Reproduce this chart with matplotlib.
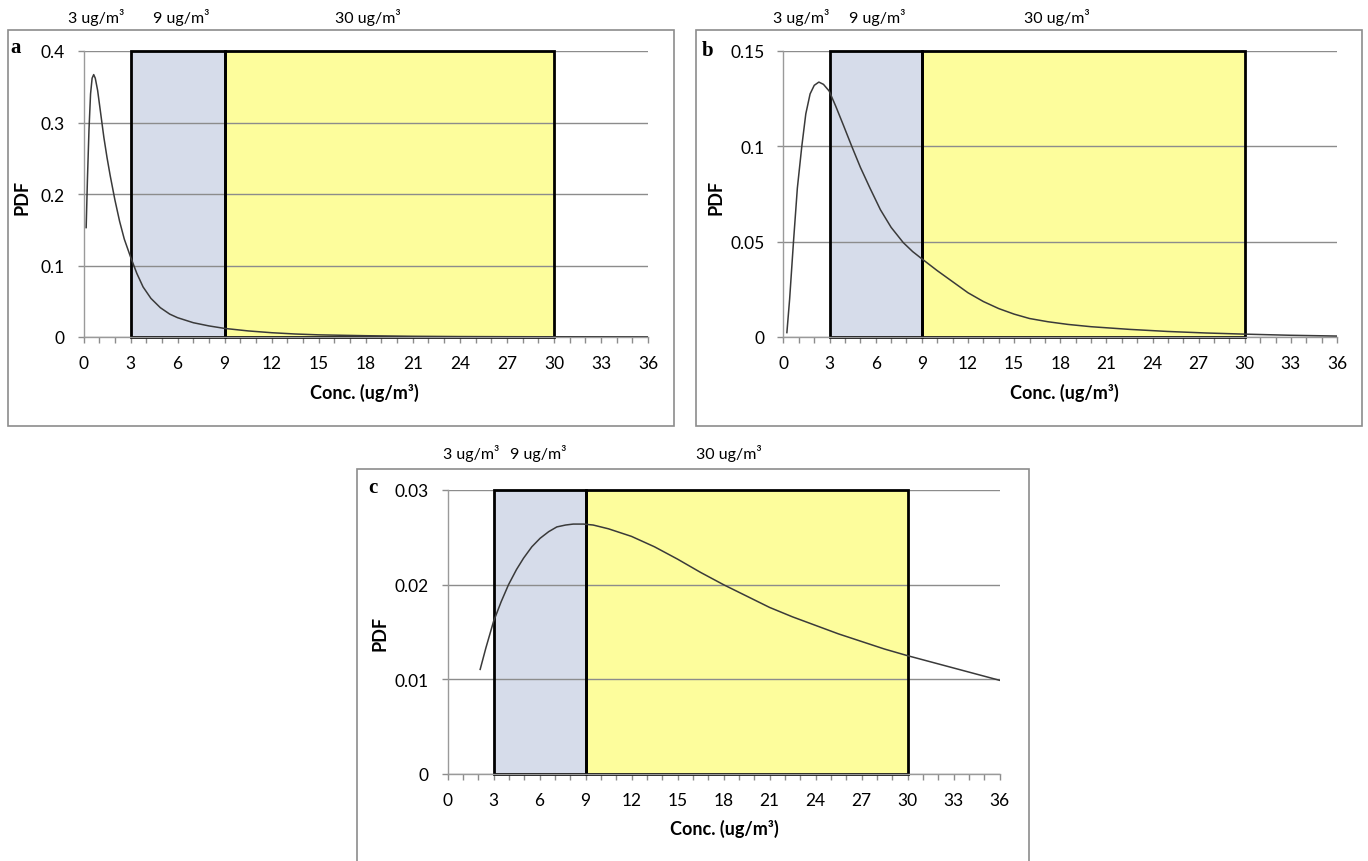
import matplotlib
matplotlib.use('Agg')
import matplotlib.pyplot as plt
from matplotlib.patches import Rectangle

plt.rcParams['font.family'] = ['Lato', 'DejaVu Sans']

# x values (ug/m3) and PDF values
conc_a = [0.17, 0.25, 0.35, 0.45, 0.55, 0.65, 0.75, 0.9, 1.1, 1.3, 1.5, 1.7, 2.0, 2.3,
          2.6, 3.0, 3.4, 3.8, 4.3, 4.9, 5.5, 6.0, 7.0, 8.0, 9.0, 10.5, 12, 13.5, 15,
          18, 21, 24, 27, 30, 33, 36]
pdf_a = [0.153, 0.22, 0.29, 0.34, 0.362, 0.367, 0.362, 0.345, 0.312, 0.279, 0.251, 0.226,
         0.192, 0.162, 0.137, 0.112, 0.089, 0.07, 0.054, 0.041, 0.032, 0.027, 0.02, 0.0155,
         0.012, 0.0085, 0.006, 0.0042, 0.003, 0.0018, 0.001, 0.0006, 0.0004, 0.0003,
         0.0002, 0.0001]

conc_b = [0.22, 0.4, 0.65, 0.9, 1.19, 1.45, 1.73, 2.0, 2.3, 2.6, 2.97, 3.4, 3.9, 4.44,
          5.0, 5.63, 6.3, 7.0, 7.79, 8.4, 9.0, 10, 11, 12, 13, 14, 15, 16, 17.2, 18.5,
          20, 22.5, 25, 27.5, 30, 33, 36]
pdf_b = [0.0023, 0.02, 0.05, 0.078, 0.100, 0.117, 0.1275, 0.132, 0.1337, 0.1325, 0.129,
         0.121, 0.111, 0.100, 0.089, 0.078, 0.0668, 0.0575, 0.0495, 0.0448, 0.041, 0.0348,
         0.029, 0.0232, 0.0186, 0.0149, 0.012, 0.0097, 0.008, 0.0066, 0.0054, 0.004,
         0.0029, 0.0021, 0.0015, 0.0009, 0.0005]

conc_c = [2.13, 2.5, 3.0, 3.5, 3.98, 4.5, 4.96, 5.5, 6.04, 6.6, 7.13, 7.7, 8.2, 8.87,
          9.5, 10.5, 12, 13.5, 15, 16.5, 18, 19.5, 21, 22.5, 24, 25.5, 27, 28.5, 30,
          33, 36]
pdf_c = [0.01105, 0.0133, 0.0161, 0.0182, 0.0200, 0.0216, 0.0228, 0.0240, 0.0249,
         0.0256, 0.0261, 0.0263, 0.0264, 0.0264, 0.0263, 0.0259, 0.0251, 0.0240, 0.0227,
         0.0213, 0.0200, 0.0188, 0.0176, 0.0166, 0.0157, 0.0148, 0.0140, 0.0132,
         0.0125, 0.0112, 0.0099]

x_ticks = list(range(0, 37, 3))
yticks_a = [0, 0.1, 0.2, 0.3, 0.4]
ylabels_a = ['0', '0.1', '0.2', '0.3', '0.4']
yticks_b = [0, 0.05, 0.1, 0.15]
ylabels_b = ['0', '0.05', '0.1', '0.15']
yticks_c = [0, 0.01, 0.02, 0.03]
ylabels_c = ['0', '0.01', '0.02', '0.03']

# concentration bands: 3-9 and 9-30 ug/m3
band_edges = [3, 9, 30]
band_colors = ['#d6dcea', '#fdfd9c']
band_labels = ['3 ug/m³', '9 ug/m³', '30 ug/m³']

W, H = 1368, 862
fig = plt.figure(figsize=(W / 100, H / 100), dpi=100)


def px(x, y):
    return x / W, 1 - y / H


def box(x0, x1, ytop, ybot):
    return [x0 / W, 1 - ybot / H, (x1 - x0) / W, (ybot - ytop) / H]


def draw_panel(ax_box, frame, x, y, yticks, ylabels, letter, letter_pos,
               pdf_pos, xlab_pos, band_pos, band_y):
    fx0, fy0, fx1, fy1 = frame
    fig.patches.append(Rectangle(px(fx0, fy1), (fx1 - fx0) / W, (fy1 - fy0) / H,
                                 transform=fig.transFigure, fill=False,
                                 edgecolor='#8c8c8c', lw=1.2))
    ax = fig.add_axes(box(*ax_box))
    ymax = yticks[-1]
    ax.set_xlim(0, 36)
    ax.set_ylim(0, ymax)
    ax.patch.set_alpha(0)
    ax.set_axisbelow('line')

    lo, mid, hi = band_edges
    ax.add_patch(Rectangle((lo, 0), mid - lo, ymax, facecolor=band_colors[0],
                           edgecolor='none', zorder=1))
    ax.add_patch(Rectangle((mid, 0), hi - mid, ymax, facecolor=band_colors[1],
                           edgecolor='none', zorder=1))
    for a, b in [(lo, mid), (mid, hi)]:
        ax.add_patch(Rectangle((a, 0), b - a, ymax, fill=False, edgecolor='black',
                               lw=2, zorder=2.2, clip_on=False))

    ax.plot(x, y, color='#3a3a3a', lw=1.1, zorder=3)

    for s in ['top', 'right']:
        ax.spines[s].set_visible(False)
    for s in ['left', 'bottom']:
        ax.spines[s].set_color('#9a9a9a')
        ax.spines[s].set_linewidth(1)

    ax.set_xticks(x_ticks)
    ax.set_xticks(range(0, 37), minor=True)
    ax.set_yticks(yticks)
    ax.set_yticklabels(ylabels)
    ax.tick_params(axis='both', which='both', direction='out', color='#8c8c8c',
                   length=4.5, width=1, labelsize=12.5)
    ax.tick_params(axis='x', pad=8.5)
    ax.tick_params(axis='y', pad=9)
    ax.yaxis.grid(True, color='#8c8c8c', lw=1)

    fig.text(*px(*letter_pos), letter, family='Liberation Serif', weight='bold',
             fontsize=15, ha='center', va='center')
    fig.text(*px(*pdf_pos), 'PDF', weight='bold', fontsize=13, rotation=90,
             ha='center', va='center')
    fig.text(*px(*xlab_pos), 'Conc. (ug/m³)', weight='bold', fontsize=13,
             ha='center', va='center')
    for lab, bx in zip(band_labels, band_pos):
        fig.text(*px(bx, band_y), lab, fontsize=11.5, ha='center', va='center')
    return ax


draw_panel((83.5, 648, 52, 338), (8, 31, 674, 427), conc_a, pdf_a,
           yticks_a, ylabels_a, 'a', (16, 48), (22, 197), (364, 393),
           (96, 181, 368), 18)
draw_panel((783.5, 1337, 52, 338), (696, 31, 1362, 427), conc_b, pdf_b,
           yticks_b, ylabels_b, 'b', (708, 51), (716, 197), (1064, 393),
           (801, 877, 1057), 18)
draw_panel((447.5, 999.5, 491, 775), (357, 470, 1029, 875), conc_c, pdf_c,
           yticks_c, ylabels_c, 'c', (373, 488), (380, 633), (724, 829),
           (471, 538, 729), 454)

fig.savefig('out.png', dpi=100)
